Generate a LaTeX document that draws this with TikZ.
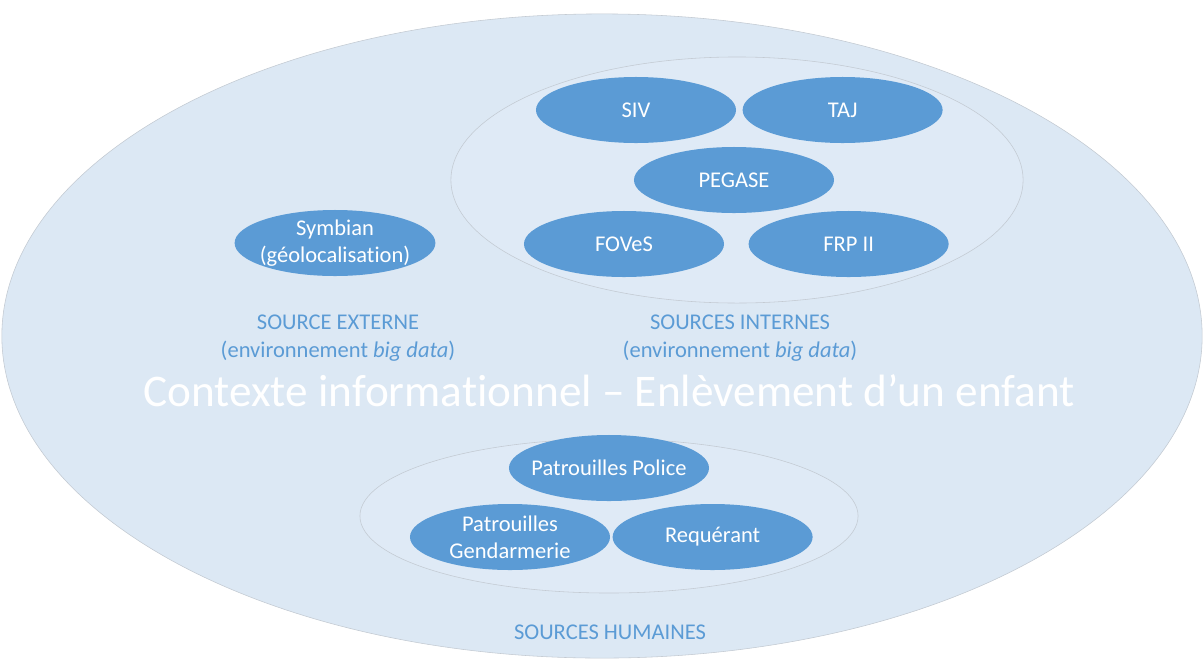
\documentclass[tikz,border=0pt]{standalone}
\usepackage{fontspec}
\setmainfont[Ligatures=NoCommon]{Carlito}
\usetikzlibrary{positioning,shapes.geometric}
\definecolor{fond}{HTML}{DCE8F4}
\definecolor{bleu}{HTML}{5B9BD5}
\definecolor{voile}{HTML}{DFEAF6}
\definecolor{trait}{HTML}{C3CAD2}

\begin{document}
\begin{tikzpicture}[x=0.025cm,y=-0.025cm]
  \tikzstyle{blob}=[ellipse,fill=bleu,text=white,inner sep=0pt,minimum width=5cm,minimum height=1.65cm,align=center,font=\fontsize{16}{19}\selectfont]
  \tikzstyle{groupe}=[ellipse,draw=trait,fill=voile,inner sep=0pt]
  \tikzstyle{legende}=[text=bleu,align=center,font=\fontsize{16}{19.5}\selectfont]
  \useasboundingbox (0,0) rectangle (1204,659);
  % fond
  \node[ellipse,draw=trait,fill=fond,inner sep=0pt,minimum width=30cm,minimum height=16.1cm] (contexte) at (602,336) {};
  % sources internes
  \node[groupe,minimum width=14.3cm,minimum height=6.15cm] (internes) at (737,180) {};
  \node[blob] (siv) at (636,110) {SIV};
  \node[blob,right=0.15cm of siv] (taj) {TAJ};
  \node[blob] (pegase) at (734,180) {PEGASE};
  \node[blob] (foves) at (624,244) {FOVeS};
  \node[blob,right=0.6cm of foves] (frp) {FRP II};
  \node[legende] (lbl-internes) at (740,338) {SOURCES INTERNES\\(environnement \textit{big data})};
  % source externe
  \node[blob,inner xsep=-3pt] (symbian) at (335,243) {Symbian\\(géolocalisation)};
  \node[legende] (lbl-externe) at (338,338) {SOURCE EXTERNE\\(environnement \textit{big data})};
  % titre
  \node[text=white,font=\fontsize{32.2}{38}\selectfont] (titre) at (609,391) {Contexte informationnel – Enlèvement d’un enfant};
  % sources humaines
  \node[groupe,minimum width=12.45cm,minimum height=3.85cm] (humaines) at (609,516) {};
  \node[blob,inner xsep=-5pt] (police) at (609,468) {Patrouilles Police};
  \node[blob] (gendarmerie) at (510,537) {Patrouilles\\Gendarmerie};
  \node[blob,right=0.05cm of gendarmerie] (requerant) {Requérant};
  \node[legende] (lbl-humaines) at (610,632) {SOURCES HUMAINES};
\end{tikzpicture}
\end{document}
